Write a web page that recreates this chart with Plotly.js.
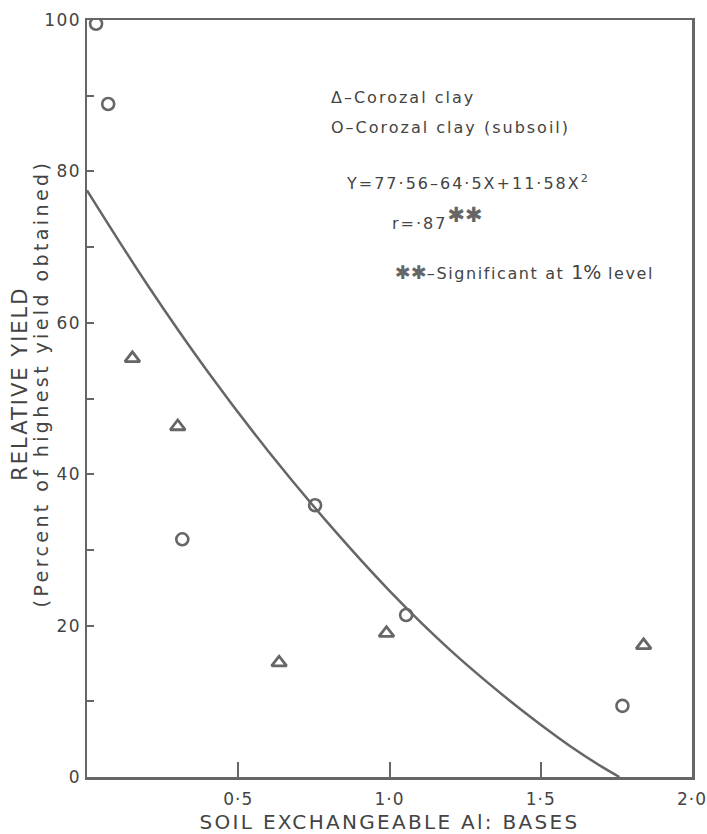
<!DOCTYPE html>
<html>
<head>
<meta charset="utf-8">
<script src="https://cdn.plot.ly/plotly-3.0.1.min.js"></script>
<style>body{margin:0;background:#fff}#chart{width:707px;height:834px}</style>
</head>
<body>
<div id="chart"></div>
<script>
// Corozal clay (triangles)
const clayX = [0.15, 0.30, 0.635, 0.99, 1.84];
const clayY = [55.3, 46.3, 15.1, 19.0, 17.4];
// Corozal clay (subsoil) (circles)
const subsoilX = [0.03, 0.07, 0.315, 0.754, 1.055, 1.77];
const subsoilY = [99.5, 88.9, 31.4, 35.9, 21.4, 9.4];
// Fitted curve
const curveX = [0, 0.2, 0.4, 0.6, 0.8, 1.0, 1.2, 1.4, 1.5, 1.6, 1.7, 1.76];
const curveY = [77.5, 65, 53.5, 43, 33.4, 24.6, 16.8, 10, 6.9, 4, 1.4, 0];
// Tick labels
const xTickVals = [0.5, 1.0, 1.5, 2.0];
const xTickText = ['0·5', '1·0', '1·5', '2·0'];
const yTickVals = [0, 20, 40, 60, 80, 100];
const yTickText = ['0', '20', '40', '60', '80', '100'];
const yMinorVals = [10, 30, 50, 70, 90];

const ink = '#444';
const lineInk = '#666';
const FONT = 'DejaVu Sans, sans-serif';
const sp = (t, ls) => '<span style="letter-spacing:' + ls + 'px">' + t + '</span>';

const traces = [
  {x: curveX, y: curveY, mode: 'lines', line: {color: lineInk, width: 2.5, shape: 'spline'}, showlegend: false, hoverinfo: 'skip'},
  {x: clayX, y: clayY, mode: 'markers', name: 'Corozal clay',
   marker: {symbol: 'triangle-up-open', size: 13, color: lineInk, line: {width: 2.8, color: lineInk}}, showlegend: false},
  {x: subsoilX, y: subsoilY, mode: 'markers', name: 'Corozal clay (subsoil)',
   marker: {symbol: 'circle-open', size: 12, color: lineInk, line: {width: 2.6, color: lineInk}}, showlegend: false}
];

const annFont = {family: FONT, size: 16, color: ink};
const layout = {
  width: 707, height: 834,
  margin: {l: 87, r: 15, t: 20, b: 57},
  paper_bgcolor: '#fff', plot_bgcolor: '#fff',
  font: {family: FONT, color: ink},
  showlegend: false,
  xaxis: {
    range: [0, 2.0], tickvals: xTickVals, ticktext: xTickText.map(t => sp(t, 1)),
    ticks: 'inside', ticklen: 15, tickwidth: 2, tickcolor: lineInk,
    showline: true, mirror: true, linewidth: 2.5, linecolor: lineInk,
    showgrid: false, zeroline: false,
    tickfont: {family: FONT, size: 17, color: ink},
    ticklabelstandoff: 5, ticklabeloverflow: 'allow',
    title: {text: sp('SOIL EXCHANGEABLE Al: BASES', 2.3), font: {family: FONT, size: 20, color: ink}, standoff: 12}
  },
  yaxis: {
    range: [0, 100], tickvals: yTickVals, ticktext: yTickText.map(t => sp(t, 1.5)),
    ticks: 'inside', ticklen: 7, tickwidth: 2, tickcolor: lineInk,
    minor: {tickvals: yMinorVals, ticks: 'inside', ticklen: 7, tickwidth: 2, tickcolor: lineInk, showgrid: false},
    showline: true, mirror: true, linewidth: 2.5, linecolor: lineInk,
    showgrid: false, zeroline: false,
    tickfont: {family: FONT, size: 17, color: ink},
    ticklabeloverflow: 'allow',
    title: {text: ''}
  },
  annotations: [
    {xref: 'paper', yref: 'paper', x: -0.11, y: 0.52, xanchor: 'center', yanchor: 'middle', textangle: -90,
     text: sp('RELATIVE YIELD', 2), showarrow: false, font: {family: FONT, size: 21, color: ink}},
    {xref: 'paper', yref: 'paper', x: -0.076, y: 0.52, xanchor: 'center', yanchor: 'middle', textangle: -90,
     text: sp('(Percent of highest yield obtained)', 3.4), showarrow: false, font: {family: FONT, size: 19, color: ink}},
    {xref: 'paper', yref: 'paper', x: 0.40, y: 0.898, xanchor: 'left', yanchor: 'middle',
     text: sp('Δ–Corozal clay', 2), showarrow: false, font: annFont},
    {xref: 'paper', yref: 'paper', x: 0.40, y: 0.858, xanchor: 'left', yanchor: 'middle',
     text: sp('O–Corozal clay (subsoil)', 2), showarrow: false, font: annFont},
    {xref: 'paper', yref: 'paper', x: 0.425, y: 0.785, xanchor: 'left', yanchor: 'middle',
     text: sp('Y=77·56–64·5X+11·58X', 2) + '<sup>2</sup>', showarrow: false, font: annFont},
    {xref: 'paper', yref: 'paper', x: 0.50, y: 0.738, xanchor: 'left', yanchor: 'middle',
     text: sp('r=·87', 2) + '<sup><span style="font-size:21px;color:#666">✱✱</span></sup>', showarrow: false, font: annFont},
    {xref: 'paper', yref: 'paper', x: 0.505, y: 0.667, xanchor: 'left', yanchor: 'middle',
     text: '<span style="font-size:19px;color:#666">✱✱</span>' + sp('–Significant at ', 1.6) + '<span style="font-size:19px">1%</span>' + sp(' level', 1.6),
     showarrow: false, font: annFont}
  ]
};

Plotly.newPlot('chart', traces, layout, {displayModeBar: false, staticPlot: true});
</script>
</body>
</html>
